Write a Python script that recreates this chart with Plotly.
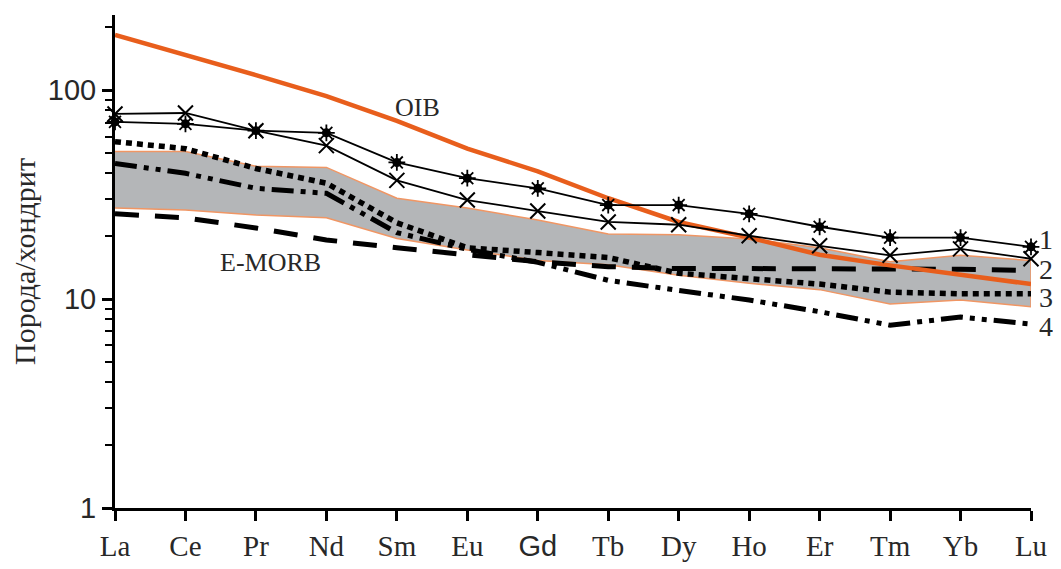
import math
import plotly.graph_objects as go

elements = ["La", "Ce", "Pr", "Nd", "Sm", "Eu", "Gd", "Tb", "Dy", "Ho", "Er", "Tm", "Yb", "Lu"]

oib = [184, 148, 118, 93.7, 71.3, 52.5, 40.9, 30.4, 23.4, 19.7, 16.3, 14.5, 13.0, 11.8]
emorb = [25.6, 24.5, 21.9, 19.2, 17.6, 16.2, 15.1, 14.3, 14.0, 14.0, 14.0, 14.0, 13.9, 13.7]
sample1 = [70.5, 69.0, 64.0, 62.5, 45.1, 37.9, 33.9, 28.2, 28.2, 25.6, 22.2, 19.7, 19.7, 17.8]
sample2 = [77.0, 77.8, 64.0, 54.3, 37.0, 29.8, 26.4, 23.4, 22.7, 20.1, 18.0, 16.2, 17.4, 15.6]
sample3 = [56.7, 52.5, 42.2, 35.9, 23.2, 17.6, 16.7, 15.8, 13.3, 12.6, 11.8, 10.8, 10.6, 10.6]
sample4 = [44.6, 40.0, 33.9, 32.1, 20.8, 17.3, 15.0, 12.3, 11.0, 9.9, 8.7, 7.5, 8.2, 7.6]
band_upper = [50.9, 50.9, 43.2, 42.7, 30.4, 27.3, 23.9, 20.5, 20.3, 19.4, 17.6, 15.1, 16.2, 15.3]
band_lower = [27.3, 26.7, 25.3, 24.5, 19.5, 17.2, 15.3, 14.6, 13.0, 11.9, 11.1, 9.47, 9.89, 9.2]

series_labels = ["1", "2", "3", "4"]
label_values = [19.4, 13.9, 10.2, 7.4]
tick_labels_y = ["1", "10", "100"]

x = list(range(len(elements)))
TXT = "rgb(40,40,40)"

fig = go.Figure()

# grey band
fig.add_trace(go.Scatter(
    x=x + x[::-1], y=band_upper + band_lower[::-1],
    fill="toself", fillcolor="rgb(180,182,184)",
    line=dict(color="rgb(240,150,100)", width=1.5),
    mode="lines", hoverinfo="skip", showlegend=False, cliponaxis=False))

# E-MORB dashed
fig.add_trace(go.Scatter(x=x, y=emorb, mode="lines",
    line=dict(color="black", width=5, dash="24px,16px"),
    showlegend=False, cliponaxis=False))

# sample 4 dash-dot-dot
fig.add_trace(go.Scatter(x=x, y=sample4, mode="lines",
    line=dict(color="black", width=5, dash="22px,7px,5px,7px,5px,7px"),
    showlegend=False, cliponaxis=False))

# sample 3 dotted
fig.add_trace(go.Scatter(x=x, y=sample3, mode="lines",
    line=dict(color="black", width=5.5, dash="6px,5px"),
    showlegend=False, cliponaxis=False))

# OIB orange
fig.add_trace(go.Scatter(x=x, y=oib, mode="lines",
    line=dict(color="rgb(232,94,28)", width=4.5),
    showlegend=False, cliponaxis=False))

# sample 2 with x markers
fig.add_trace(go.Scatter(x=x, y=sample2, mode="lines+markers",
    line=dict(color="black", width=1.8),
    marker=dict(symbol="x-thin-open", size=15, color="black", line=dict(color="black", width=2)),
    showlegend=False, cliponaxis=False))

# sample 1 with star markers
fig.add_trace(go.Scatter(x=x, y=sample1, mode="lines+markers",
    line=dict(color="black", width=1.8),
    marker=dict(symbol="circle", size=9, color="black"),
    showlegend=False, cliponaxis=False))
fig.add_trace(go.Scatter(x=x, y=sample1, mode="markers",
    marker=dict(symbol="asterisk-open", size=14, color="black", line=dict(color="black", width=1.8)),
    showlegend=False, cliponaxis=False))

ticktext = [('<span style="font-family:Liberation Sans">%s</span>' % e) if e == "Gd" else e for e in elements]

fig.update_layout(
    width=1053, height=561,
    margin=dict(l=107, r=30, t=7, b=56),
    paper_bgcolor="white", plot_bgcolor="white",
    font=dict(family="Liberation Serif", color=TXT, size=28),
    xaxis=dict(
        range=[0, 13], tickvals=x, ticktext=ticktext,
        showline=True, linecolor="black", linewidth=3,
        ticks="outside", ticklen=10, tickwidth=3, tickcolor="black",
        showgrid=False, zeroline=False,
        tickfont=dict(family="Liberation Serif", size=29, color=TXT),
    ),
    yaxis=dict(
        type="log", range=[0, 2.36],
        tickvals=[1, 10, 100], ticktext=tick_labels_y,
        showline=True, linecolor="black", linewidth=3,
        ticks="outside", ticklen=10, tickwidth=2.5, tickcolor="black",
        showgrid=False, zeroline=False,
        tickfont=dict(family="Liberation Sans", size=29, color=TXT),
        minor=dict(ticks="outside", ticklen=7, tickwidth=2, tickcolor="black",
                   tickvals=[2, 3, 4, 5, 6, 7, 8, 9, 20, 30, 40, 50, 60, 70, 80, 90, 200], showgrid=False),
        title=dict(text="Порода/хондрит", font=dict(family="Liberation Serif", size=30, color=TXT), standoff=8),
    ),
)

fig.add_annotation(x=4.3, y=1.919, text="OIB", showarrow=False,
                   font=dict(family="Liberation Serif", size=26, color=TXT))
fig.add_annotation(x=2.2, y=1.175, text="E-MORB", showarrow=False,
                   font=dict(family="Liberation Serif", size=26, color=TXT))
for lbl, v in zip(series_labels, label_values):
    fig.add_annotation(x=13.0, y=math.log10(v), text=lbl, showarrow=False,
                       xanchor="left", xshift=6, height=26,
                       font=dict(family="Liberation Serif", size=28, color=TXT))

fig.write_html("out.html")
